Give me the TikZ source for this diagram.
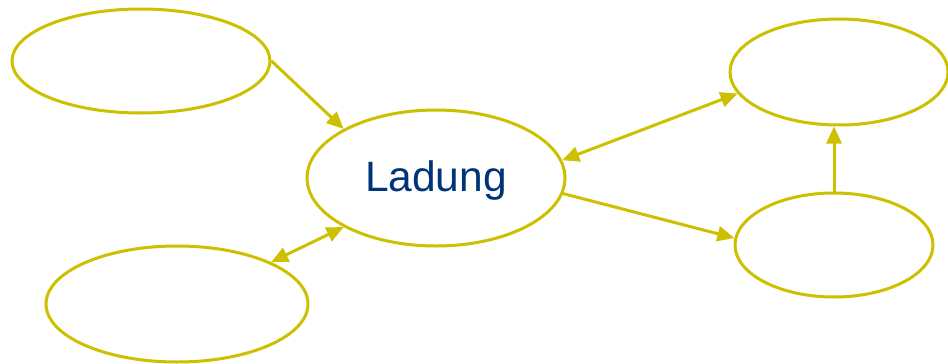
\documentclass[tikz,border=0pt]{standalone}
\usepackage{fontspec}
\setmainfont{Liberation Sans}
\usetikzlibrary{shapes.geometric,arrows.meta}
\definecolor{olive}{RGB}{204,192,0}
\definecolor{navy}{RGB}{0,52,120}
\tikzset{
  ell/.style={ellipse, draw=olive, line width=3pt, inner sep=0pt, fill=white},
  tip/.tip={Triangle[length=17pt,width=15pt]},
  conn/.style={draw=olive, line width=3pt, -tip},
  dconn/.style={draw=olive, line width=3pt, tip-tip}
}
\begin{document}
\begin{tikzpicture}[x=1pt,y=-1pt]
\useasboundingbox (0,0) rectangle (948,364);
\node[ell, minimum width=258pt, minimum height=136pt] (c) at (436,178) {};
\node[ell, minimum width=258pt, minimum height=104pt] (tl) at (141,61) {};
\node[ell, minimum width=262pt, minimum height=116pt] (bl) at (177,304) {};
\node[ell, minimum width=218pt, minimum height=106pt] (tr) at (839,72) {};
\node[ell, minimum width=198pt, minimum height=104pt] (br) at (834,245) {};
\node[text=navy, font=\fontsize{42.5}{42.5}\selectfont, inner sep=0pt, yshift=-3pt] (lab) at (c.center) {Ladung};
\draw[conn] (tl.east) -- (c.152);
\draw[dconn] (bl.24) -- (c.208);
\draw[dconn] (c.8) -- (tr.192);
\draw[conn] (c.-7) -- (br.176);
\draw[conn] (br.north) -- (br.north |- tr.south);
\end{tikzpicture}
\end{document}
